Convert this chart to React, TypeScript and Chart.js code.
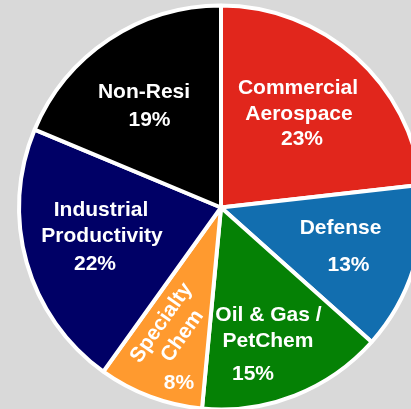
import React, { useEffect, useRef } from "react";
import { Chart, registerables } from "chart.js";

Chart.register(...registerables);

const categories: string[][] = [
  ["Commercial", "Aerospace"],
  ["Defense"],
  ["Oil & Gas /", "PetChem"],
  ["Specialty", "Chem"],
  ["Industrial", "Productivity"],
  ["Non-Resi"],
];
// slice sizes
const sliceValues: number[] = [23.2, 13.4, 14.9, 8.4, 21.4, 18.7];
// percentages as printed on the chart
const percentLabels: string[] = ["23%", "13%", "15%", "8%", "22%", "19%"];
const colors: string[] = ["#E1261C", "#126EAF", "#058105", "#FF9A2F", "#000066", "#000000"];

// Label layout (style only): per slice, offsets for each text line (category lines then percent)
const labelOffsets: [number, number][][] = [
  [[-3.7, -30.4], [-2.7, -4.4], [0.3, 20.9]],
  [[4, -17.5], [12, 18.8]],
  [[3.2, -7.3], [2.7, 18.7], [-12.3, 51.7]],
  [[-18.5, 1], [2.5, 14], [0.5, 60]],
  [[-3.4, -31.6], [-2.4, -5.6], [-9.4, 22.4]],
  [[-9.8, -15.9], [-4.3, 11.4]],
];
const rotatedSlices: number[] = [3];
const labelRotation = (-55 * Math.PI) / 180;

const labelPlugin = {
  id: "sliceLabels",
  afterDatasetsDraw(chart: any) {
    const ctx: CanvasRenderingContext2D = chart.ctx;
    const meta = chart.getDatasetMeta(0);
    ctx.save();
    ctx.fillStyle = "#FFFFFF";
    ctx.font = "bold 21px 'Liberation Sans', Arial, sans-serif";
    ctx.textAlign = "center";
    ctx.textBaseline = "alphabetic";
    meta.data.forEach((arc: any, i: number) => {
      const p = arc.getProps(["x", "y", "startAngle", "endAngle", "outerRadius"], true);
      const mid = (p.startAngle + p.endAngle) / 2;
      const r = p.outerRadius * 0.6;
      const ax = p.x + Math.cos(mid) * r;
      const ay = p.y + Math.sin(mid) * r;
      const lines = [...categories[i], percentLabels[i]];
      lines.forEach((txt, j) => {
        const off = labelOffsets[i][j] || [0, 0];
        const rotate = rotatedSlices.includes(i) && j < categories[i].length;
        ctx.save();
        ctx.translate(ax + off[0], ay + off[1]);
        if (rotate) ctx.rotate(labelRotation);
        ctx.fillText(txt, 0, 7.5);
        ctx.restore();
      });
    });
    ctx.restore();
  },
};

export default function App() {
  const canvasRef = useRef<HTMLCanvasElement | null>(null);

  useEffect(() => {
    if (!canvasRef.current) return;
    const chart = new Chart(canvasRef.current, {
      type: "pie",
      data: {
        labels: categories.map((c) => c.join(" ")),
        datasets: [
          {
            data: sliceValues,
            backgroundColor: colors,
            borderColor: "#FFFFFF",
            borderWidth: 4,
          },
        ],
      },
      options: {
        responsive: false,
        maintainAspectRatio: false,
        animation: false,
        radius: 202,
        layout: { padding: 0 },
        plugins: {
          legend: { display: false },
          tooltip: { enabled: false },
        },
      } as any,
      plugins: [labelPlugin],
    });
    return () => chart.destroy();
  }, []);

  return (
    <div
      style={{
        position: "fixed",
        left: 0,
        top: 0,
        width: 411,
        height: 409,
        background: "#D9D9D9",
        overflow: "hidden",
      }}
    >
      <canvas
        ref={canvasRef}
        width={442}
        height={415}
        style={{ position: "absolute", left: 0, top: 0, width: 442, height: 415 }}
      />
    </div>
  );
}
